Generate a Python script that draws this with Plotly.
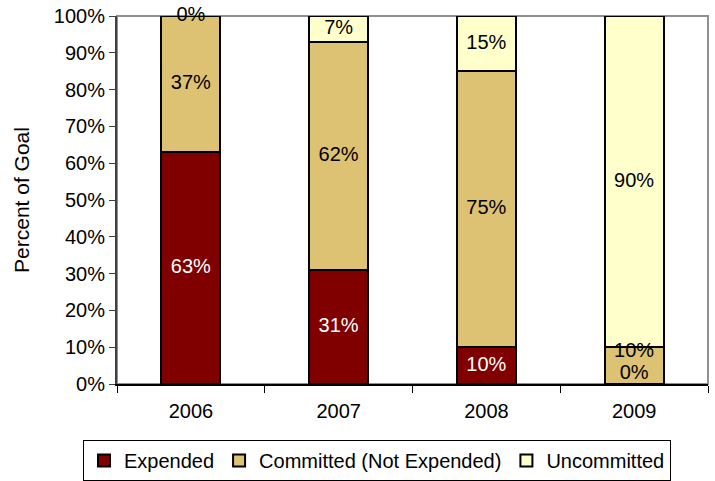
import plotly.graph_objects as go

years = ["2006", "2007", "2008", "2009"]
expended = [63, 31, 10, 0]
committed = [37, 62, 75, 10]
uncommitted = [0, 7, 15, 90]

series = [
    ("Expended", expended, "#800000", "white"),
    ("Committed (Not Expended)", committed, "#DEC274", "black"),
    ("Uncommitted", uncommitted, "#FFFFCC", "black"),
]

FONT = "Liberation Sans, Arial, sans-serif"
fig = go.Figure()

for name, vals, color, _ in series:
    fig.add_trace(go.Bar(
        x=years, y=vals, name=name, width=0.4,
        marker=dict(color=color, line=dict(color="black", width=2)),
    ))

# value labels centred in each segment, nudged apart where segments are thin;
# empty segments get dark text since they sit over the neighbouring bar
lab = {"white": ([], [], []), "black": ([], [], [])}
for i, yr in enumerate(years):
    base = 0
    prev = None
    for name, vals, _, tcolor in series:
        v = vals[i]
        yc = base + v / 2
        yc = max(yc, 2.7)
        if prev is not None:
            yc = max(yc, prev + 6.0)
        yc = min(yc, 100)
        prev = yc
        base += v
        col = tcolor if v > 0 else "black"
        xs, ys, ts = lab[col]
        xs.append(yr)
        ys.append(yc)
        ts.append(f"{v}%")

for tcolor, (xs, ys, ts) in lab.items():
    fig.add_trace(go.Scatter(
        x=xs, y=ys, text=ts, mode="text", showlegend=False,
        textposition="middle center", hoverinfo="skip", cliponaxis=False,
        textfont=dict(size=20, color=tcolor, family=FONT),
    ))

fig.update_layout(
    width=715, height=481,
    margin=dict(l=117, r=7, t=16, b=97, autoexpand=False),
    barmode="stack",
    plot_bgcolor="white", paper_bgcolor="white",
    font=dict(family=FONT, size=20, color="black"),
    showlegend=True,
    legend=dict(
        orientation="h", xref="container", yref="container",
        x=83 / 715, xanchor="left", y=1 - 440 / 481, yanchor="top",
        bordercolor="black", borderwidth=1, font=dict(size=20),
        traceorder="normal", itemwidth=30,
    ),
    xaxis=dict(
        type="category", showgrid=False, showline=True, linecolor="black",
        linewidth=2, ticks="outside", tickson="boundaries", ticklen=7,
        tickcolor="black", range=[-0.5, 3.5], tickfont=dict(size=20),
        ticklabelstandoff=8, automargin=False,
    ),
    yaxis=dict(
        range=[0, 100], dtick=10, ticksuffix="%", showgrid=False,
        showline=True, linecolor="#404040", linewidth=2, ticks="outside",
        ticklen=6, tickcolor="#404040", tickfont=dict(size=20),
        title=dict(text="Percent of Goal", font=dict(size=21), standoff=18),
        zeroline=False, automargin=False,
    ),
    shapes=[dict(
        type="rect", xref="paper", yref="paper", x0=0, y0=0, x1=1, y1=1,
        line=dict(color="#909090", width=2), layer="below",
    )],
)

fig.write_html("out.html")
